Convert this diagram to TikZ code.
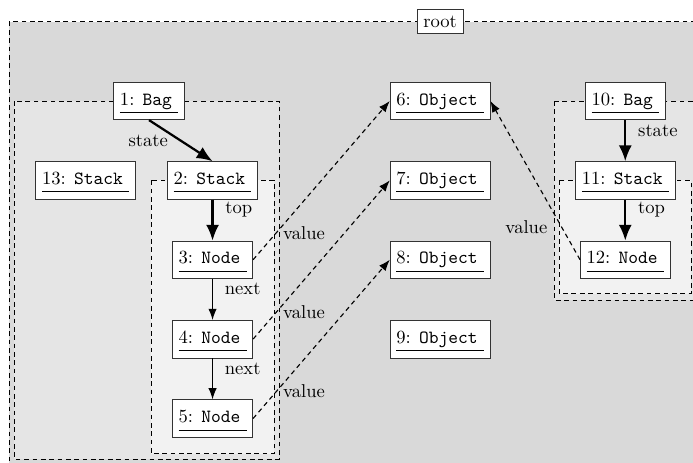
\documentclass[tikz,border=0pt]{standalone}
\usepackage{tikz}
\usetikzlibrary{positioning, arrows.meta, backgrounds}
\tikzstyle{obj} = [rectangle, draw=black!80, fill=white]
\tikzstyle{tag} = [rectangle, draw=black!80, fill=white]
\tikzstyle{group} = [draw=black, dash pattern=on 2.5pt off 2pt]
\tikzstyle{strong} = [very thick, -{Latex[length=8.5pt, width=7pt]}]
\tikzstyle{link} = [semithick, -{Latex[length=6pt, width=4.5pt]}]
\tikzstyle{ref} = [semithick, dash pattern=on 2.5pt off 2pt, -{Latex[length=6pt, width=4.5pt]}]
\newcommand{\inst}[2]{\underline{\rule[-2.5pt]{0pt}{11.5pt}#1: \texttt{#2} }}

\begin{document}
\begin{tikzpicture}[node distance=1.5cm]
    \useasboundingbox (-2.817,-6.824) rectangle (10.28,1.909);
    % Left bag with its stack
    \node (bag1) [obj] at (0,0) {\inst{1}{Bag}};
    \node (stack2) [obj, below of=bag1, xshift=1.2cm] {\inst{2}{Stack}};
    \node (stack13) [obj, below of=bag1, xshift=-1.2cm] {\inst{13}{Stack}};
    \node (node3) [obj, below of=stack2] {\inst{3}{Node}};
    \node (node4) [obj, below of=node3] {\inst{4}{Node}};
    \node (node5) [obj, below of=node4] {\inst{5}{Node}};
    % Objects
    \node (obj6) [obj, right of=bag1, xshift=4cm] {\inst{6}{Object}};
    \node (obj7) [obj, below of=obj6] {\inst{7}{Object}};
    \node (obj8) [obj, below of=obj7] {\inst{8}{Object}};
    \node (obj9) [obj, below of=obj8] {\inst{9}{Object}};
    \node (root) [tag, above of=obj6] {root};
    % Right bag
    \node (bag10) [obj, right of=obj6, xshift=2cm] {\inst{10}{Bag}};
    \node (stack11) [obj, below of=bag10] {\inst{11}{Stack}};
    \node (node12) [obj, below of=stack11] {\inst{12}{Node}};
    % Arrows
    \draw [strong] (bag1.south) -- node[midway, left=3pt] {state} (stack2.north);
    \draw [strong] (stack2) -- node[near start, right=3pt] {top} (node3);
    \draw [link] (node3) -- node[near start, right=3pt] {next} (node4);
    \draw [link] (node4) -- node[near start, right=3pt] {next} (node5);
    \draw [strong] (bag10) -- node[near start, right=3pt] {state} (stack11);
    \draw [strong] (stack11) -- node[near start, right=3pt] {top} (node12);
    \draw [ref] (node3.east) -- node[pos=0.17, right] {value} (obj6.west);
    \draw [ref] (node4.east) -- node[pos=0.17, right] {value} (obj7.west);
    \draw [ref] (node5.east) -- node[pos=0.17, right] {value} (obj8.west);
    \draw [ref] (node12.west) -- node[pos=0.29, below left] {value} (obj6.east);
    % Containers
    \begin{scope}[on background layer]
        \draw [group, fill=black!15] (-2.647,1.5) rectangle (10.8,-7.2);
        \draw [group, fill=black!10] (-2.552,0) rectangle (2.457,-6.767);
        \draw [group, fill=black!5] (0.038,-1.5) rectangle (2.363,-6.664);
        \draw [group, fill=black!10] (7.656,0) rectangle (10.5,-3.762);
        \draw [group, fill=black!5] (7.75,-1.5) rectangle (10.246,-3.639);
    \end{scope}
\end{tikzpicture}
\end{document}
